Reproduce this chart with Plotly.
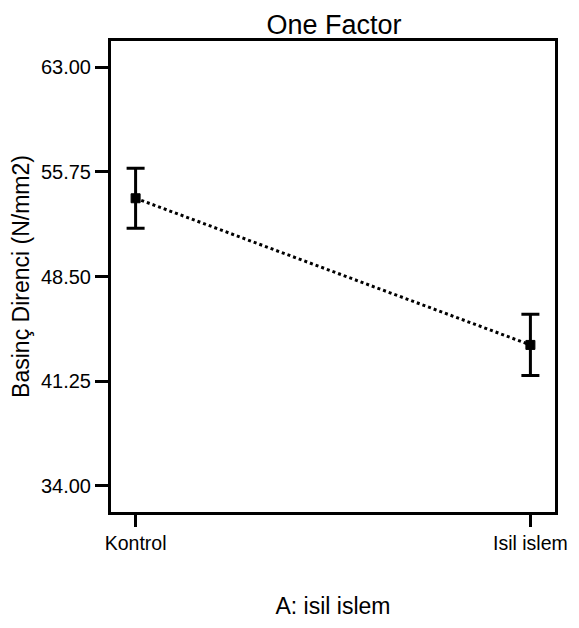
import plotly.graph_objects as go

categories = ["Kontrol", "Isil islem"]
means = [53.92, 43.76]
errors = [2.07, 2.12]
y_tickvals = [34.00, 41.25, 48.50, 55.75, 63.00]
y_ticktext = ["34.00", "41.25", "48.50", "55.75", "63.00"]

FONT = "Liberation Sans, Arial, sans-serif"
x_pos = list(range(len(categories)))

# page body has an 8px default margin; figure is sized to fit the window
W, H = 571, 620

fig = go.Figure()
fig.add_trace(go.Scatter(
    x=x_pos, y=means,
    mode="lines+markers",
    line=dict(color="black", width=3, dash="3px,3px"),
    marker=dict(symbol="square", size=9, color="black", line=dict(color="black", width=1)),
    error_y=dict(type="data", array=errors, visible=True, color="black", thickness=3, width=9),
    showlegend=False,
))

fig.update_layout(
    width=W, height=H,
    margin=dict(l=100, r=15, t=33, b=107),
    paper_bgcolor="white", plot_bgcolor="white",
    font=dict(family=FONT, color="black"),
    title=dict(text="One Factor", font=dict(size=27, family=FONT, color="black"),
               x=326/W, xref="container", xanchor="center",
               y=1-17/H, yref="container", yanchor="middle"),
    xaxis=dict(
        range=[-0.0623, 1.0623],
        tickvals=x_pos, ticktext=categories,
        ticks="outside", ticklen=12, tickwidth=3, tickcolor="black",
        tickfont=dict(size=19.5, family=FONT, color="black"),
        showline=True, linewidth=3, linecolor="black", mirror=True,
        showgrid=False, zeroline=False,
        title=dict(text="A: isil islem", font=dict(size=23, family=FONT, color="black"), standoff=45),
    ),
    yaxis=dict(
        range=[32.1875, 64.8125],
        tickvals=y_tickvals, ticktext=y_ticktext,
        ticks="outside", ticklen=13, tickwidth=3, tickcolor="black",
        tickfont=dict(size=20, family=FONT, color="black"),
        showline=True, linewidth=3, linecolor="black", mirror=True,
        showgrid=False, zeroline=False,
        title=dict(text="Basinç Direnci (N/mm2)", font=dict(size=23, family=FONT, color="black"), standoff=5),
    ),
)

fig.write_html("out.html")
